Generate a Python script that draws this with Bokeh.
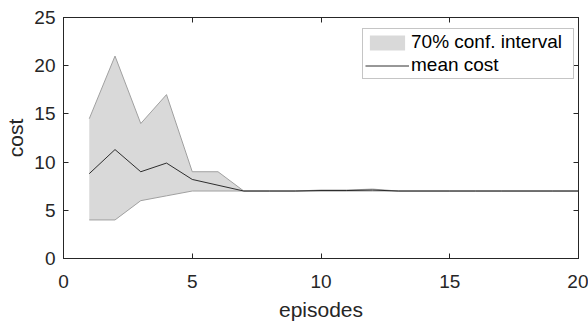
from bokeh.plotting import figure
from bokeh.models import LinearAxis, FixedTicker, Range1d, Legend, LegendItem
from bokeh.embed import file_html
from bokeh.resources import INLINE

episodes = list(range(1, 21))
upper = [14.5, 21.0, 14.0, 17.0, 9.0, 9.0, 7.0, 7.0, 7.0, 7.1, 7.1, 7.2, 7.0, 7.0, 7.0, 7.0, 7.0, 7.0, 7.0, 7.0]
lower = [4.0, 4.0, 6.0, 6.5, 7.0, 7.0, 7.0, 7.0, 7.0, 7.0, 7.0, 7.0, 7.0, 7.0, 7.0, 7.0, 7.0, 7.0, 7.0, 7.0]
mean_cost = [8.8, 11.3, 9.0, 9.9, 8.2, 7.6, 7.0, 7.0, 7.0, 7.05, 7.05, 7.1, 7.0, 7.0, 7.0, 7.0, 7.0, 7.0, 7.0, 7.0]
x_ticks = [0, 5, 10, 15, 20]
y_ticks = [0, 5, 10, 15, 20, 25]

FONT = "Liberation Sans"
AX = "#262626"

p = figure(width=588, height=323, output_backend="svg", toolbar_location=None,
           x_range=Range1d(0, 20), y_range=Range1d(0, 25),
           min_border_left=63, min_border_top=17, min_border_right=10, min_border_bottom=64)
p.grid.visible = False
p.outline_line_color = AX
p.background_fill_color = "white"
p.border_fill_color = "white"

band = p.varea(x=episodes, y1=lower, y2=upper, fill_color="#d9d9d9")
p.line(episodes, upper, line_color="#a0a0a0", line_width=1)
p.line(episodes, lower, line_color="#a0a0a0", line_width=1)
mline = p.line(episodes, mean_cost, line_color="#1a1a1a", line_width=0.9)

for ax in (p.xaxis[0], p.yaxis[0]):
    ax.major_tick_in = 5
    ax.major_tick_out = 0
    ax.minor_tick_in = 0
    ax.minor_tick_out = 0
    ax.axis_line_color = AX
    ax.major_tick_line_color = AX
    ax.major_label_text_font = FONT
    ax.major_label_text_font_size = "19px"
    ax.major_label_text_color = AX
    ax.axis_label_text_font = FONT
    ax.axis_label_text_font_size = "21px"
    ax.axis_label_text_font_style = "normal"
    ax.axis_label_text_color = AX

p.xaxis[0].ticker = FixedTicker(ticks=x_ticks)
p.yaxis[0].ticker = FixedTicker(ticks=y_ticks)
p.xaxis[0].axis_label = "episodes"
p.yaxis[0].axis_label = "cost"
p.xaxis[0].major_label_standoff = 16
p.xaxis[0].axis_label_standoff = 7
p.xaxis[0].axis_label_text_line_height = 1.0
p.yaxis[0].major_label_standoff = 8
p.yaxis[0].axis_label_standoff = 4

top = LinearAxis(ticker=FixedTicker(ticks=x_ticks),
                 major_label_overrides={t: "" for t in x_ticks})
right = LinearAxis(ticker=FixedTicker(ticks=y_ticks),
                   major_label_overrides={t: "" for t in y_ticks})
for ax in (top, right):
    ax.major_tick_in = 5
    ax.major_tick_out = 0
    ax.minor_tick_in = 0
    ax.minor_tick_out = 0
    ax.axis_line_color = AX
    ax.major_tick_line_color = AX
    ax.major_label_standoff = 0
    ax.axis_label_standoff = 0
p.add_layout(top, "above")
p.add_layout(right, "right")

legend = Legend(items=[LegendItem(label="70% conf. interval", renderers=[band]),
                       LegendItem(label="mean cost", renderers=[mline])],
                location=(299, 179))
legend.label_text_font = FONT
legend.label_text_font_size = "19px"
legend.label_text_color = "black"
legend.glyph_width = 44
legend.glyph_height = 19
legend.label_height = 19
legend.label_width = 160
legend.label_standoff = 2
legend.spacing = 1
legend.padding = 2
legend.margin = 0
legend.border_line_color = "#8c8c8c"
legend.border_line_width = 1
legend.background_fill_color = "white"
legend.background_fill_alpha = 1
p.add_layout(legend, "center")

open("out.html", "w").write(file_html(p, INLINE))
